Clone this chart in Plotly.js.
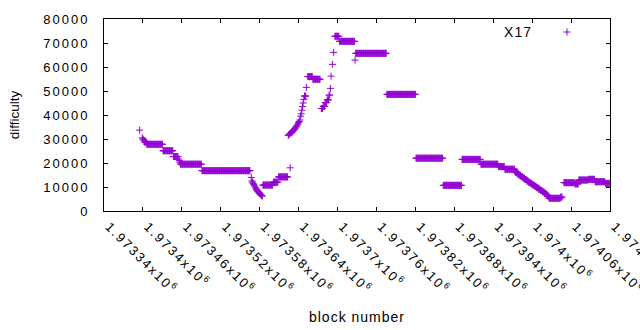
<!DOCTYPE html>
<html><head><meta charset="utf-8">
<script src="https://cdn.plot.ly/plotly-3.0.1.min.js"></script>
<style>
html,body{margin:0;padding:0;background:#fff;}
#chart{width:640px;height:330px;}
.xtick text,.ytick text{letter-spacing:2px;}
.legendtext,.g-xtitle text{letter-spacing:1px;}
</style></head><body><div id="chart"></div>
<script>
const seriesName = "X17";
// plateaus / single blocks: first block, last block, difficulty
const segFirstBlock = [1973395,1973399,1973400,1973401,1973402,1973403,1973406,1973431,1973447,1973455,1973456,1973457,1973458,1973491,
 1973567,1973568,1973569,1973570,1973571,1973572,1973573,1973574,1973575,1973576,1973577,1973578,1973579,1973580,1973581,1973582,1973583,1973584,
 1973585,1973601,1973609,
 1973624,1973625,1973626,1973627,1973628,1973629,1973630,1973631,1973632,1973633,1973634,1973635,1973636,1973637,1973638,1973639,1973640,1973641,1973642,
 1973643,1973644,1973645,1973646,1973647,1973648,1973649,1973652,1973654,1973662,
 1973675,1973678,1973681,1973684,1973687,1973689,1973690,1973692,1973694,
 1973696,1973703,1973727,1973728,1973776,1973821,1973863,1973892,1973921,1973948,1973958,
 1973974,1973977,1973980,1973983,1973986,1973989,1973992,1973995,1973998,1974001,1974004,1974007,1974010,1974013,1974016,1974019,1974022,1974024,
 1974026,1974044,1974049,1974066,1974072,1974087,1974097,1974113];
const segLastBlock = [1973395,1973399,1973400,1973401,1973402,1973405,1973430,1973446,1973454,1973455,1973456,1973457,1973490,1973565,
 1973567,1973568,1973569,1973570,1973571,1973572,1973573,1973574,1973575,1973576,1973577,1973578,1973579,1973580,1973581,1973582,1973583,1973584,
 1973600,1973608,1973623,
 1973624,1973625,1973626,1973627,1973628,1973629,1973630,1973631,1973632,1973633,1973634,1973635,1973636,1973637,1973638,1973639,1973640,1973641,1973642,
 1973643,1973644,1973645,1973646,1973647,1973648,1973651,1973652,1973661,1973673,
 1973677,1973680,1973683,1973686,1973688,1973689,1973690,1973692,1973694,
 1973702,1973726,1973727,1973775,1973820,1973862,1973891,1973920,1973947,1973957,1973973,
 1973976,1973979,1973982,1973985,1973988,1973991,1973994,1973997,1974000,1974003,1974006,1974009,1974012,1974015,1974018,1974021,1974023,1974025,
 1974043,1974046,1974065,1974071,1974086,1974096,1974112,1974119];
const segDifficulty = [33700,30500,30000,29600,29200,28700,27800,25100,22700,21700,21000,20300,19500,16800,
 14000,12500,12000,11500,11000,10500,10000,9500,9000,8500,8200,7900,7600,7300,7000,6700,6400,6200,
 10800,12000,14200,
 31500,31800,32100,18000,32400,32700,33000,33300,33600,33900,34200,34600,35000,35400,35800,36300,36800,37300,37900,
 39500,40500,42000,43500,45000,46500,47900,51500,56000,54900,
 42700,43600,45200,46300,48300,51100,56200,61100,66100,
 72800,70700,62900,65700,48600,22000,10700,21500,19500,18500,17400,
 16200,15500,14900,14300,13700,13100,12500,11900,11300,10800,10300,9700,9100,8600,8000,7400,6800,6200,
 5300,5800,11800,11300,12900,13200,12200,11500];
const xTickLabels = ["1.97334","1.9734","1.97346","1.97352","1.97358","1.97364","1.9737","1.97376","1.97382","1.97388","1.97394","1.974","1.97406","1.97412"];
const yTickValues = [0,10000,20000,30000,40000,50000,60000,70000,80000];

const blocks = [], difficulty = [];
for (let i = 0; i < segFirstBlock.length; i++) {
  for (let b = segFirstBlock[i]; b <= segLastBlock[i]; b++) { blocks.push(b); difficulty.push(segDifficulty[i]); }
}
const xTickVals = xTickLabels.map(s => Math.round(parseFloat(s) * 1e6));
const xTickText = xTickLabels.map(s => s + "x10<sup>6</sup>");

const purple = '#9400d3';
const trace = {
  type: 'scatter', mode: 'markers', name: seriesName,
  x: blocks, y: difficulty,
  marker: {symbol: 'cross-thin-open', size: 5, color: purple, line: {color: purple, width: 1}}
};
const axisCommon = {
  ticks: 'inside', ticklen: 4, tickwidth: 1, tickcolor: '#000',
  showline: true, linecolor: '#000', linewidth: 1, mirror: 'ticks',
  showgrid: false, zeroline: false, automargin: false
};
const layout = {
  width: 640, height: 330,
  margin: {l: 104, r: 30, t: 19, b: 119, pad: 0},
  paper_bgcolor: '#fff', plot_bgcolor: '#fff',
  font: {family: '"Liberation Sans", Arial, sans-serif', size: 14, color: '#000'},
  showlegend: true,
  legend: {x: 1, xanchor: 'right', y: 1, yanchor: 'top', bgcolor: 'rgba(0,0,0,0)', borderwidth: 0, font: {size: 14}},
  xaxis: Object.assign({}, axisCommon, {
    range: [1973340, 1974120], tickmode: 'array', tickvals: xTickVals, ticktext: xTickText,
    tickangle: 45, ticklabelstandoff: 2, ticklabelshift: 5, ticklabeloverflow: 'allow', tickfont: {size: 13},
    title: {text: 'block number', font: {size: 14}, standoff: 16}
  }),
  yaxis: Object.assign({}, axisCommon, {
    range: [0, 80000], tickmode: 'array', tickvals: yTickValues, ticktext: yTickValues.map(String),
    ticklabelstandoff: 11, tickfont: {size: 13},
    title: {text: 'difficulty', font: {size: 13.5}, standoff: 20}
  })
};
function shiftEl(el, dx, dy) {
  const t = el.getAttribute('transform') || '';
  el.setAttribute('transform', 'translate(' + dx + ',' + dy + ') ' + t);
}
Plotly.newPlot('chart', [trace], layout, {staticPlot: true, displayModeBar: false}).then(gd => {
  const sb = gd.querySelector('.legend .scrollbox');
  if (sb) sb.removeAttribute('clip-path');
  const tr = gd.querySelector('.legend .traces');
  if (!tr) return;
  const txt = tr.querySelector('text.legendtext');
  const layers = tr.querySelector('g.layers');
  const pt = tr.querySelector('path.scatterpts');
  const host = gd.getBoundingClientRect();
  const r1 = txt.getBoundingClientRect();
  shiftEl(txt, (host.left + 532) - r1.right, (host.top + 32) - (r1.top + r1.bottom) / 2);
  const r2 = pt.getBoundingClientRect();
  shiftEl(layers, (host.left + 567) - (r2.left + r2.right) / 2, (host.top + 32) - (r2.top + r2.bottom) / 2);
});
</script></body></html>
